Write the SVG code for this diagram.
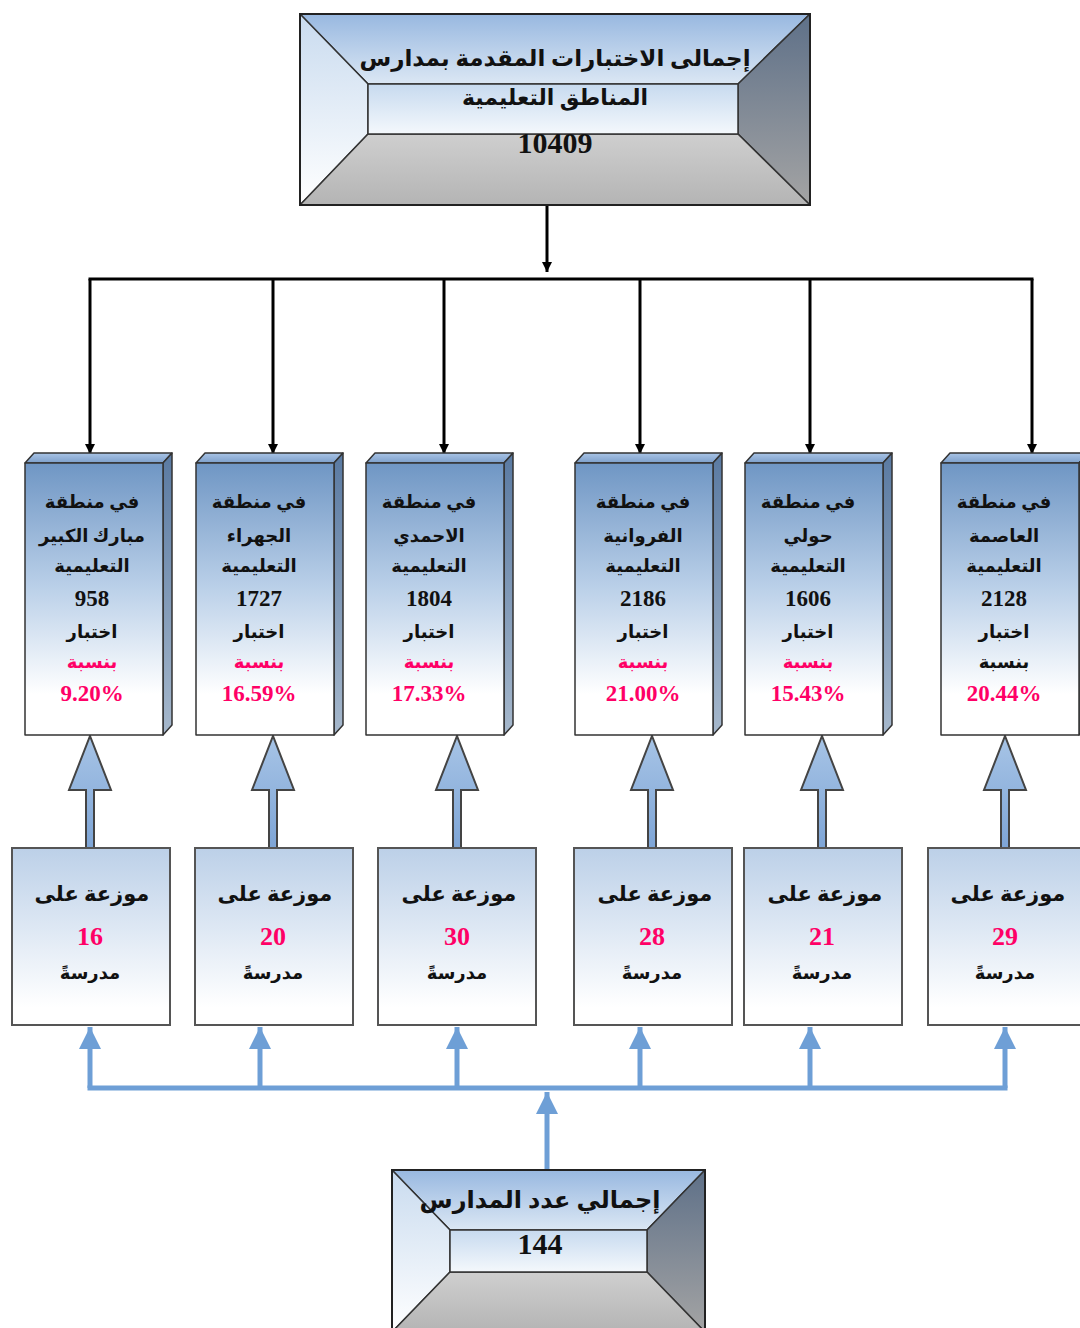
<svg xmlns="http://www.w3.org/2000/svg" width="1080" height="1328" viewBox="0 0 1080 1328">
<defs>
<style>
.t{font-family:"Liberation Serif","DejaVu Sans",serif;font-weight:bold;text-anchor:middle;fill:#111}
.ar{font-size:18px}
.num{font-size:23px}
.pk{fill:#ff0066}
.face{stroke:#333;stroke-width:1.5;stroke-linejoin:round}
.sb{fill:url(#smallGrad);stroke:#555;stroke-width:2}
.blk{fill:none;stroke:#000;stroke-width:3}
.blu{fill:none;stroke:#6e9fd6;stroke-width:5}
.tri{fill:url(#triGrad);stroke:#444;stroke-width:2;stroke-linejoin:miter}
</style>
<linearGradient id="colGrad" x1="0" y1="0" x2="0" y2="1">
<stop offset="0" stop-color="#6f96c4"/><stop offset="0.45" stop-color="#b9cfe8"/><stop offset="0.85" stop-color="#ffffff"/>
</linearGradient>
<linearGradient id="topFace" x1="0" y1="0" x2="0" y2="1"><stop offset="0" stop-color="#a9c4e6"/><stop offset="1" stop-color="#7d9fca"/></linearGradient>
<linearGradient id="sideFace" x1="0" y1="0" x2="0" y2="1"><stop offset="0" stop-color="#5a7aa2"/><stop offset="1" stop-color="#a6b8cc"/></linearGradient>
<linearGradient id="smallGrad" x1="0" y1="0" x2="0" y2="1"><stop offset="0" stop-color="#bcd0e8"/><stop offset="0.9" stop-color="#ffffff"/></linearGradient>
<linearGradient id="triGrad" x1="0" y1="0" x2="0" y2="1"><stop offset="0" stop-color="#a7c4e6"/><stop offset="1" stop-color="#7ea5d6"/></linearGradient>
<linearGradient id="bvTop" x1="0" y1="0" x2="0" y2="1"><stop offset="0" stop-color="#98b8e0"/><stop offset="1" stop-color="#dbe7f4"/></linearGradient>
<linearGradient id="bvLeft" x1="0" y1="0" x2="0" y2="1"><stop offset="0" stop-color="#c9dbef"/><stop offset="1" stop-color="#ffffff"/></linearGradient>
<linearGradient id="bvRight" x1="0" y1="0" x2="0" y2="1"><stop offset="0" stop-color="#5e7088"/><stop offset="1" stop-color="#a4a4a4"/></linearGradient>
<linearGradient id="bvBot" x1="0" y1="0" x2="0" y2="1"><stop offset="0" stop-color="#cfcfcf"/><stop offset="1" stop-color="#b4b4b4"/></linearGradient>
<linearGradient id="bvIn" x1="0" y1="0" x2="0" y2="1"><stop offset="0" stop-color="#c7daef"/><stop offset="1" stop-color="#f4f8fc"/></linearGradient>
<marker id="ah" markerUnits="userSpaceOnUse" markerWidth="10" markerHeight="10" refX="10" refY="5" orient="auto"><path d="M0,0 L10,5 L0,10 z" fill="#000"/></marker>
<marker id="bh" markerUnits="userSpaceOnUse" markerWidth="24" markerHeight="22" refX="22" refY="11" orient="auto"><path d="M0,0 L22,11 L0,22 z" fill="#6e9fd6"/></marker>
</defs>
<rect width="1080" height="1328" fill="#ffffff"/>

<g id="connectors">
<line class="blk" x1="547" y1="205" x2="547" y2="272" marker-end="url(#ah)"/>
<line class="blk" x1="88.5" y1="279" x2="1033.5" y2="279"/>
<line class="blk" x1="90" y1="279" x2="90" y2="454" marker-end="url(#ah)"/>
<line class="blk" x1="273" y1="279" x2="273" y2="454" marker-end="url(#ah)"/>
<line class="blk" x1="444" y1="279" x2="444" y2="454" marker-end="url(#ah)"/>
<line class="blk" x1="640" y1="279" x2="640" y2="454" marker-end="url(#ah)"/>
<line class="blk" x1="810" y1="279" x2="810" y2="454" marker-end="url(#ah)"/>
<line class="blk" x1="1032" y1="279" x2="1032" y2="454" marker-end="url(#ah)"/>
<g id="blockArrows">
<path class="tri" d="M86,848 V790 H69 L90,736 L111,790 H94 V848"/>
<path class="tri" d="M269,848 V790 H252 L273,736 L294,790 H277 V848"/>
<path class="tri" d="M453,848 V790 H436 L457,736 L478,790 H461 V848"/>
<path class="tri" d="M648,848 V790 H631 L652,736 L673,790 H656 V848"/>
<path class="tri" d="M818,848 V790 H801 L822,736 L843,790 H826 V848"/>
<path class="tri" d="M1001,848 V790 H984 L1005,736 L1026,790 H1009 V848"/>
</g>
<line class="blu" x1="547" y1="1170" x2="547" y2="1092" marker-end="url(#bh)"/>
<line class="blu" x1="87.5" y1="1088" x2="1007.5" y2="1088"/>
<line class="blu" x1="90" y1="1088" x2="90" y2="1027" marker-end="url(#bh)"/>
<line class="blu" x1="260" y1="1088" x2="260" y2="1027" marker-end="url(#bh)"/>
<line class="blu" x1="457" y1="1088" x2="457" y2="1027" marker-end="url(#bh)"/>
<line class="blu" x1="640" y1="1088" x2="640" y2="1027" marker-end="url(#bh)"/>
<line class="blu" x1="810" y1="1088" x2="810" y2="1027" marker-end="url(#bh)"/>
<line class="blu" x1="1005" y1="1088" x2="1005" y2="1027" marker-end="url(#bh)"/>
</g>

<g id="top-total">
<polygon class="face" points="300,14 810,14 738,84 368,84" fill="url(#bvTop)"/>
<polygon class="face" points="300,14 368,84 368,134 300,205" fill="url(#bvLeft)"/>
<polygon class="face" points="810,14 810,205 738,134 738,84" fill="url(#bvRight)"/>
<polygon class="face" points="300,205 368,134 738,134 810,205" fill="url(#bvBot)"/>
<rect class="face" x="368" y="84" width="370" height="50" fill="url(#bvIn)"/>
<rect x="300" y="14" width="510" height="191" fill="none" stroke="#222" stroke-width="2"/>
<text class="t" x="555" y="66" style="font-size:23px">إجمالى الاختبارات المقدمة بمدارس</text>
<text class="t" x="555" y="105" style="font-size:22px">المناطق التعليمية</text>
<text class="t" x="555" y="153" style="font-size:30px">10409</text>
</g>

<g id="col1">
<polygon class="face" points="25,463 34,453 172,453 163,463" fill="url(#topFace)"/>
<polygon class="face" points="163,463 172,453 172,725 163,735" fill="url(#sideFace)"/>
<rect class="face" x="25" y="463" width="138" height="272" fill="url(#colGrad)"/>
<text class="t ar" x="92" y="508">في منطقة</text>
<text class="t ar" x="92" y="542">مبارك الكبير</text>
<text class="t ar" x="92" y="572">التعليمية</text>
<text class="t num" x="92" y="606">958</text>
<text class="t ar" x="92" y="638">اختبار</text>
<text class="t ar pk" x="92" y="668">بنسبة</text>
<text class="t num pk" x="92" y="701">9.20%</text>
</g>
<g id="col2">
<polygon class="face" points="196,463 205,453 343,453 334,463" fill="url(#topFace)"/>
<polygon class="face" points="334,463 343,453 343,725 334,735" fill="url(#sideFace)"/>
<rect class="face" x="196" y="463" width="138" height="272" fill="url(#colGrad)"/>
<text class="t ar" x="259" y="508">في منطقة</text>
<text class="t ar" x="259" y="542">الجهراء</text>
<text class="t ar" x="259" y="572">التعليمية</text>
<text class="t num" x="259" y="606">1727</text>
<text class="t ar" x="259" y="638">اختبار</text>
<text class="t ar pk" x="259" y="668">بنسبة</text>
<text class="t num pk" x="259" y="701">16.59%</text>
</g>
<g id="col3">
<polygon class="face" points="366,463 375,453 513,453 504,463" fill="url(#topFace)"/>
<polygon class="face" points="504,463 513,453 513,725 504,735" fill="url(#sideFace)"/>
<rect class="face" x="366" y="463" width="138" height="272" fill="url(#colGrad)"/>
<text class="t ar" x="429" y="508">في منطقة</text>
<text class="t ar" x="429" y="542">الاحمدي</text>
<text class="t ar" x="429" y="572">التعليمية</text>
<text class="t num" x="429" y="606">1804</text>
<text class="t ar" x="429" y="638">اختبار</text>
<text class="t ar pk" x="429" y="668">بنسبة</text>
<text class="t num pk" x="429" y="701">17.33%</text>
</g>
<g id="col4">
<polygon class="face" points="575,463 584,453 722,453 713,463" fill="url(#topFace)"/>
<polygon class="face" points="713,463 722,453 722,725 713,735" fill="url(#sideFace)"/>
<rect class="face" x="575" y="463" width="138" height="272" fill="url(#colGrad)"/>
<text class="t ar" x="643" y="508">في منطقة</text>
<text class="t ar" x="643" y="542">الفروانية</text>
<text class="t ar" x="643" y="572">التعليمية</text>
<text class="t num" x="643" y="606">2186</text>
<text class="t ar" x="643" y="638">اختبار</text>
<text class="t ar pk" x="643" y="668">بنسبة</text>
<text class="t num pk" x="643" y="701">21.00%</text>
</g>
<g id="col5">
<polygon class="face" points="745,463 754,453 892,453 883,463" fill="url(#topFace)"/>
<polygon class="face" points="883,463 892,453 892,725 883,735" fill="url(#sideFace)"/>
<rect class="face" x="745" y="463" width="138" height="272" fill="url(#colGrad)"/>
<text class="t ar" x="808" y="508">في منطقة</text>
<text class="t ar" x="808" y="542">حولي</text>
<text class="t ar" x="808" y="572">التعليمية</text>
<text class="t num" x="808" y="606">1606</text>
<text class="t ar" x="808" y="638">اختبار</text>
<text class="t ar pk" x="808" y="668">بنسبة</text>
<text class="t num pk" x="808" y="701">15.43%</text>
</g>
<g id="col6">
<polygon class="face" points="941,463 950,453 1088,453 1079,463" fill="url(#topFace)"/>
<polygon class="face" points="1079,463 1088,453 1088,725 1079,735" fill="url(#sideFace)"/>
<rect class="face" x="941" y="463" width="138" height="272" fill="url(#colGrad)"/>
<text class="t ar" x="1004" y="508">في منطقة</text>
<text class="t ar" x="1004" y="542">العاصمة</text>
<text class="t ar" x="1004" y="572">التعليمية</text>
<text class="t num" x="1004" y="606">2128</text>
<text class="t ar" x="1004" y="638">اختبار</text>
<text class="t ar" x="1004" y="668">بنسبة</text>
<text class="t num pk" x="1004" y="701">20.44%</text>
</g>

<g id="sch1"><rect class="sb" x="12" y="848" width="158" height="177"/>
<text class="t" x="92" y="901" style="font-size:21px">موزعة على</text>
<text class="t pk" x="90" y="945" style="font-size:26px">16</text>
<text class="t" x="90" y="979" style="font-size:18px">مدرسةً</text></g>
<g id="sch2"><rect class="sb" x="195" y="848" width="158" height="177"/>
<text class="t" x="275" y="901" style="font-size:21px">موزعة على</text>
<text class="t pk" x="273" y="945" style="font-size:26px">20</text>
<text class="t" x="273" y="979" style="font-size:18px">مدرسةً</text></g>
<g id="sch3"><rect class="sb" x="378" y="848" width="158" height="177"/>
<text class="t" x="459" y="901" style="font-size:21px">موزعة على</text>
<text class="t pk" x="457" y="945" style="font-size:26px">30</text>
<text class="t" x="457" y="979" style="font-size:18px">مدرسةً</text></g>
<g id="sch4"><rect class="sb" x="574" y="848" width="158" height="177"/>
<text class="t" x="655" y="901" style="font-size:21px">موزعة على</text>
<text class="t pk" x="652" y="945" style="font-size:26px">28</text>
<text class="t" x="652" y="979" style="font-size:18px">مدرسةً</text></g>
<g id="sch5"><rect class="sb" x="744" y="848" width="158" height="177"/>
<text class="t" x="825" y="901" style="font-size:21px">موزعة على</text>
<text class="t pk" x="822" y="945" style="font-size:26px">21</text>
<text class="t" x="822" y="979" style="font-size:18px">مدرسةً</text></g>
<g id="sch6"><rect class="sb" x="928" y="848" width="158" height="177"/>
<text class="t" x="1008" y="901" style="font-size:21px">موزعة على</text>
<text class="t pk" x="1005" y="945" style="font-size:26px">29</text>
<text class="t" x="1005" y="979" style="font-size:18px">مدرسةً</text></g>

<g id="bottom-total">
<polygon class="face" points="392,1170 705,1170 647,1230 450,1230" fill="url(#bvTop)"/>
<polygon class="face" points="392,1170 450,1230 450,1272 392,1332" fill="url(#bvLeft)"/>
<polygon class="face" points="705,1170 705,1332 647,1272 647,1230" fill="url(#bvRight)"/>
<polygon class="face" points="392,1332 450,1272 647,1272 705,1332" fill="url(#bvBot)"/>
<rect class="face" x="450" y="1230" width="197" height="42" fill="url(#bvIn)"/>
<rect x="392" y="1170" width="313" height="162" fill="none" stroke="#222" stroke-width="2"/>
<text class="t" x="540" y="1208" style="font-size:24px">إجمالي عدد المدارس</text>
<text class="t" x="540" y="1254" style="font-size:30px">144</text>
</g>
</svg>
